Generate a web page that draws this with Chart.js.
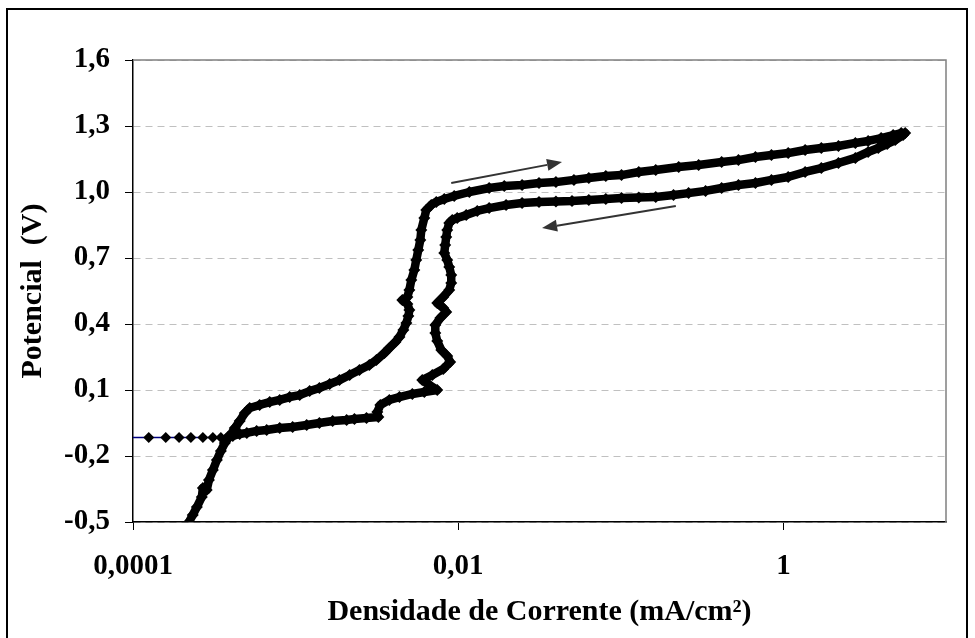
<!DOCTYPE html>
<html lang="pt">
<head>
<meta charset="utf-8">
<title>Polarização cíclica</title>
<script src="https://cdn.jsdelivr.net/npm/chart.js@4/dist/chart.umd.min.js"></script>
<style>
  html, body { margin: 0; padding: 0; background: #fff; }
  body { width: 975px; height: 638px; overflow: hidden; position: relative; }
  #frame { position: absolute; left: 6px; top: 8px; width: 962px; height: 640px; border: 2px solid #000; box-sizing: border-box; }
  #chart { position: absolute; left: 0; top: 0; }
</style>
</head>
<body>
<div id="frame"></div>
<canvas id="chart" width="975" height="638"></canvas>
<script>
'use strict';

// ── Data (mA/cm², V) ─────────────────────────────────────────────────────────

// forward scan from -0.5 V up to the vertex, then the reverse scan back down
const loopCurrent = [
  2.11e-4, 2.21e-4, 2.33e-4, 2.47e-4, 2.65e-4, 2.69e-4, 2.84e-4, 2.93e-4, 3.10e-4, 3.28e-4,
  3.47e-4, 3.67e-4, 3.94e-4, 4.23e-4, 4.53e-4, 4.87e-4, 5.22e-4, 6.01e-4, 6.93e-4, 7.98e-4,
  9.19e-4, 1.06e-3, 1.22e-3, 1.40e-3, 1.62e-3, 1.86e-3, 2.15e-3, 2.47e-3, 2.84e-3, 3.14e-3,
  3.52e-3, 3.77e-3, 4.11e-3, 4.35e-3, 4.60e-3, 4.80e-3, 4.94e-3, 5.01e-3, 4.87e-3, 4.53e-3,
  4.87e-3, 5.01e-3, 5.15e-3, 5.37e-3, 5.52e-3, 5.68e-3, 5.85e-3, 5.93e-3, 6.19e-3, 6.36e-3,
  6.83e-3, 7.33e-3, 8.21e-3, 9.45e-3, 0.0117, 0.0155, 0.0192, 0.0247, 0.0314, 0.0399,
  0.0515, 0.0636, 0.0809, 0.101, 0.129, 0.164, 0.227, 0.301, 0.417, 0.529,
  0.673, 0.844, 1.07, 1.36, 1.71, 2.18, 2.77, 3.32, 3.99, 4.73,
  5.30, 5.61,
  5.45, 4.87, 4.35, 3.83, 3.32, 2.77, 2.18, 1.71, 1.36, 1.07,
  0.844, 0.673, 0.529, 0.417, 0.332, 0.261, 0.211, 0.164, 0.129, 0.101,
  0.0809, 0.0636, 0.0501, 0.0399, 0.0314, 0.0247, 0.0197, 0.0155, 0.0131, 0.0112,
  9.86e-3, 9.19e-3, 8.81e-3, 8.56e-3, 8.44e-3, 8.32e-3, 8.21e-3, 8.56e-3, 8.81e-3, 9.06e-3,
  9.06e-3, 8.81e-3, 8.09e-3, 7.43e-3, 8.09e-3, 8.44e-3, 7.76e-3, 7.23e-3, 7.23e-3, 7.43e-3,
  7.87e-3, 8.56e-3, 8.93e-3, 8.09e-3, 6.93e-3, 6.01e-3, 6.64e-3, 7.43e-3, 6.19e-3, 5.22e-3,
  4.35e-3, 3.77e-3, 3.32e-3, 3.18e-3, 3.23e-3, 2.73e-3, 2.30e-3, 2.06e-3, 1.69e-3, 1.40e-3,
  1.17e-3, 9.59e-4, 7.98e-4, 6.64e-4, 5.76e-4, 5.01e-4, 4.53e-4, 4.11e-4, 3.83e-4
];

const loopPotential = [
  -0.527, -0.5, -0.468, -0.432, -0.386, -0.345, -0.355, -0.309, -0.264, -0.218,
  -0.177, -0.141, -0.109, -0.073, -0.041, -0.005, 0.018, 0.032, 0.045, 0.055,
  0.068, 0.077, 0.095, 0.109, 0.127, 0.145, 0.168, 0.191, 0.214, 0.236,
  0.268, 0.291, 0.318, 0.341, 0.373, 0.405, 0.436, 0.464, 0.491, 0.509,
  0.523, 0.555, 0.6, 0.645, 0.691, 0.736, 0.782, 0.827, 0.882, 0.918,
  0.941, 0.955, 0.968, 0.982, 1.0, 1.018, 1.027, 1.032, 1.041, 1.045,
  1.055, 1.064, 1.073, 1.077, 1.091, 1.1, 1.114, 1.123, 1.136, 1.145,
  1.159, 1.168, 1.177, 1.191, 1.2, 1.209, 1.223, 1.232, 1.245, 1.259,
  1.268, 1.268,
  1.259, 1.236, 1.218, 1.2, 1.182, 1.155, 1.132, 1.109, 1.091, 1.068,
  1.055, 1.041, 1.032, 1.018, 1.005, 0.995, 0.986, 0.977, 0.975, 0.973,
  0.968, 0.964, 0.959, 0.957, 0.955, 0.95, 0.941, 0.927, 0.914, 0.895,
  0.882, 0.873, 0.859, 0.827, 0.795, 0.759, 0.723, 0.691, 0.659, 0.623,
  0.586, 0.555, 0.523, 0.495, 0.473, 0.455, 0.427, 0.395, 0.359, 0.323,
  0.282, 0.255, 0.227, 0.195, 0.168, 0.145, 0.123, 0.1, 0.091, 0.082,
  0.068, 0.055, 0.032, 0.0, -0.023, -0.027, -0.032, -0.036, -0.041, -0.05,
  -0.059, -0.068, -0.073, -0.082, -0.086, -0.095, -0.1, -0.109, -0.114
];

// sparse end of the reverse scan, running off the left edge
const tailCurrent = [3.83e-4, 3.47e-4, 3.10e-4, 2.69e-4, 2.27e-4, 1.92e-4, 1.59e-4, 1.25e-4, 8.0e-5];
const tailPotential = [-0.114, -0.116, -0.116, -0.116, -0.116, -0.116, -0.116, -0.116, -0.116];

// scan direction arrows: start -> end
const arrowFromCurrent = [9.06e-3, 0.218];
const arrowFromPotential = [1.041, 0.936];
const arrowToCurrent = [0.0435, 0.0328];
const arrowToPotential = [1.136, 0.836];

const xTickValues = [0.0001, 0.01, 1];
const xTickLabels = ['0,0001', '0,01', '1'];
const yTickValues = [-0.5, -0.2, 0.1, 0.4, 0.7, 1.0, 1.3, 1.6];
const yTickLabels = ['-0,5', '-0,2', '0,1', '0,4', '0,7', '1,0', '1,3', '1,6'];

// ── Helpers ───────────────────────────────────────────────────────────────────

function toPoints(xs, ys) {
  return xs.map((x, i) => ({ x, y: ys[i] }));
}

const serif = "'Liberation Serif', 'Times New Roman', serif";
const tickFont = { family: serif, size: 29, weight: 'bold' };
const titleFont = { family: serif, size: 30, weight: 'bold' };

// plot frame (grey top/right) and scan arrows
const framePlugin = {
  id: 'frame',
  beforeDatasetsDraw(chart) {
    const { ctx, chartArea: a } = chart;
    ctx.save();
    ctx.strokeStyle = '#808080';
    ctx.lineWidth = 1.5;
    ctx.beginPath();
    ctx.moveTo(a.left, a.top);
    ctx.lineTo(a.right, a.top);
    ctx.lineTo(a.right, a.bottom);
    ctx.stroke();
    ctx.restore();
  },
  afterDatasetsDraw(chart) {
    const { ctx, scales: { x, y } } = chart;
    ctx.save();
    ctx.strokeStyle = '#333';
    ctx.fillStyle = '#333';
    ctx.lineWidth = 2;
    for (let i = 0; i < arrowFromCurrent.length; i++) {
      const x0 = x.getPixelForValue(arrowFromCurrent[i]);
      const y0 = y.getPixelForValue(arrowFromPotential[i]);
      const x1 = x.getPixelForValue(arrowToCurrent[i]);
      const y1 = y.getPixelForValue(arrowToPotential[i]);
      const ang = Math.atan2(y1 - y0, x1 - x0);
      const head = 15, half = 6;
      const bx = x1 - head * Math.cos(ang), by = y1 - head * Math.sin(ang);
      ctx.beginPath();
      ctx.moveTo(x0, y0);
      ctx.lineTo(bx, by);
      ctx.stroke();
      ctx.beginPath();
      ctx.moveTo(x1, y1);
      ctx.lineTo(bx + half * Math.sin(ang), by - half * Math.cos(ang));
      ctx.lineTo(bx - half * Math.sin(ang), by + half * Math.cos(ang));
      ctx.closePath();
      ctx.fill();
    }
    ctx.restore();
  }
};

// ── Chart ─────────────────────────────────────────────────────────────────────

new Chart(document.getElementById('chart').getContext('2d'), {
  type: 'scatter',
  data: {
    datasets: [{
      data: toPoints(loopCurrent, loopPotential),
      showLine: true,
      borderColor: '#000',
      borderWidth: 8.5,
      borderJoinStyle: 'round',
      borderCapStyle: 'round',
      pointStyle: 'rectRot',
      pointRadius: 6,
      pointBorderWidth: 0,
      pointBackgroundColor: '#000',
      clip: 0
    }, {
      data: toPoints(tailCurrent, tailPotential),
      showLine: true,
      borderColor: '#000080',
      borderWidth: 1.5,
      pointStyle: 'rectRot',
      pointRadius: 5.5,
      pointBorderWidth: 0,
      pointBackgroundColor: '#000',
      clip: 0
    }]
  },
  options: {
    responsive: false,
    devicePixelRatio: 1,
    animation: false,
    layout: { padding: { left: 0, right: 29, top: 60, bottom: 0 } },
    plugins: { legend: { display: false }, tooltip: { enabled: false } },
    scales: {
      x: {
        type: 'logarithmic',
        min: 0.0001,
        max: 10,
        afterBuildTicks: s => { s.ticks = xTickValues.map(v => ({ value: v })); },
        afterFit: s => { s.height = 116; },
        grid: { drawOnChartArea: false, tickLength: 8, color: '#000', tickColor: '#000' },
        border: { color: '#000', width: 1.5 },
        ticks: {
          autoSkip: false, maxRotation: 0, padding: 19, color: '#000',
          font: tickFont,
          callback: (v, i) => xTickLabels[i]
        },
        title: {
          display: true,
          text: 'Densidade de Corrente (mA/cm²)',
          color: '#000',
          font: titleFont,
          padding: { top: 0, bottom: 8 }
        }
      },
      y: {
        min: -0.5,
        max: 1.6,
        afterBuildTicks: s => { s.ticks = yTickValues.map(v => ({ value: v })); },
        afterFit: s => { s.width = 133; },
        grid: { color: '#c0c0c0', tickColor: '#000', tickLength: 8, tickBorderDash: [] },
        border: { color: '#000', width: 1.5, dash: [7, 5] },
        ticks: {
          autoSkip: false, padding: 15, color: '#000',
          font: tickFont,
          callback: (v, i) => yTickLabels[i]
        },
        title: {
          display: true,
          text: 'Potencial  (V)',
          color: '#000',
          font: titleFont,
          padding: { top: 15, bottom: 0 }
        }
      }
    }
  },
  plugins: [framePlugin]
});
</script>
</body>
</html>
